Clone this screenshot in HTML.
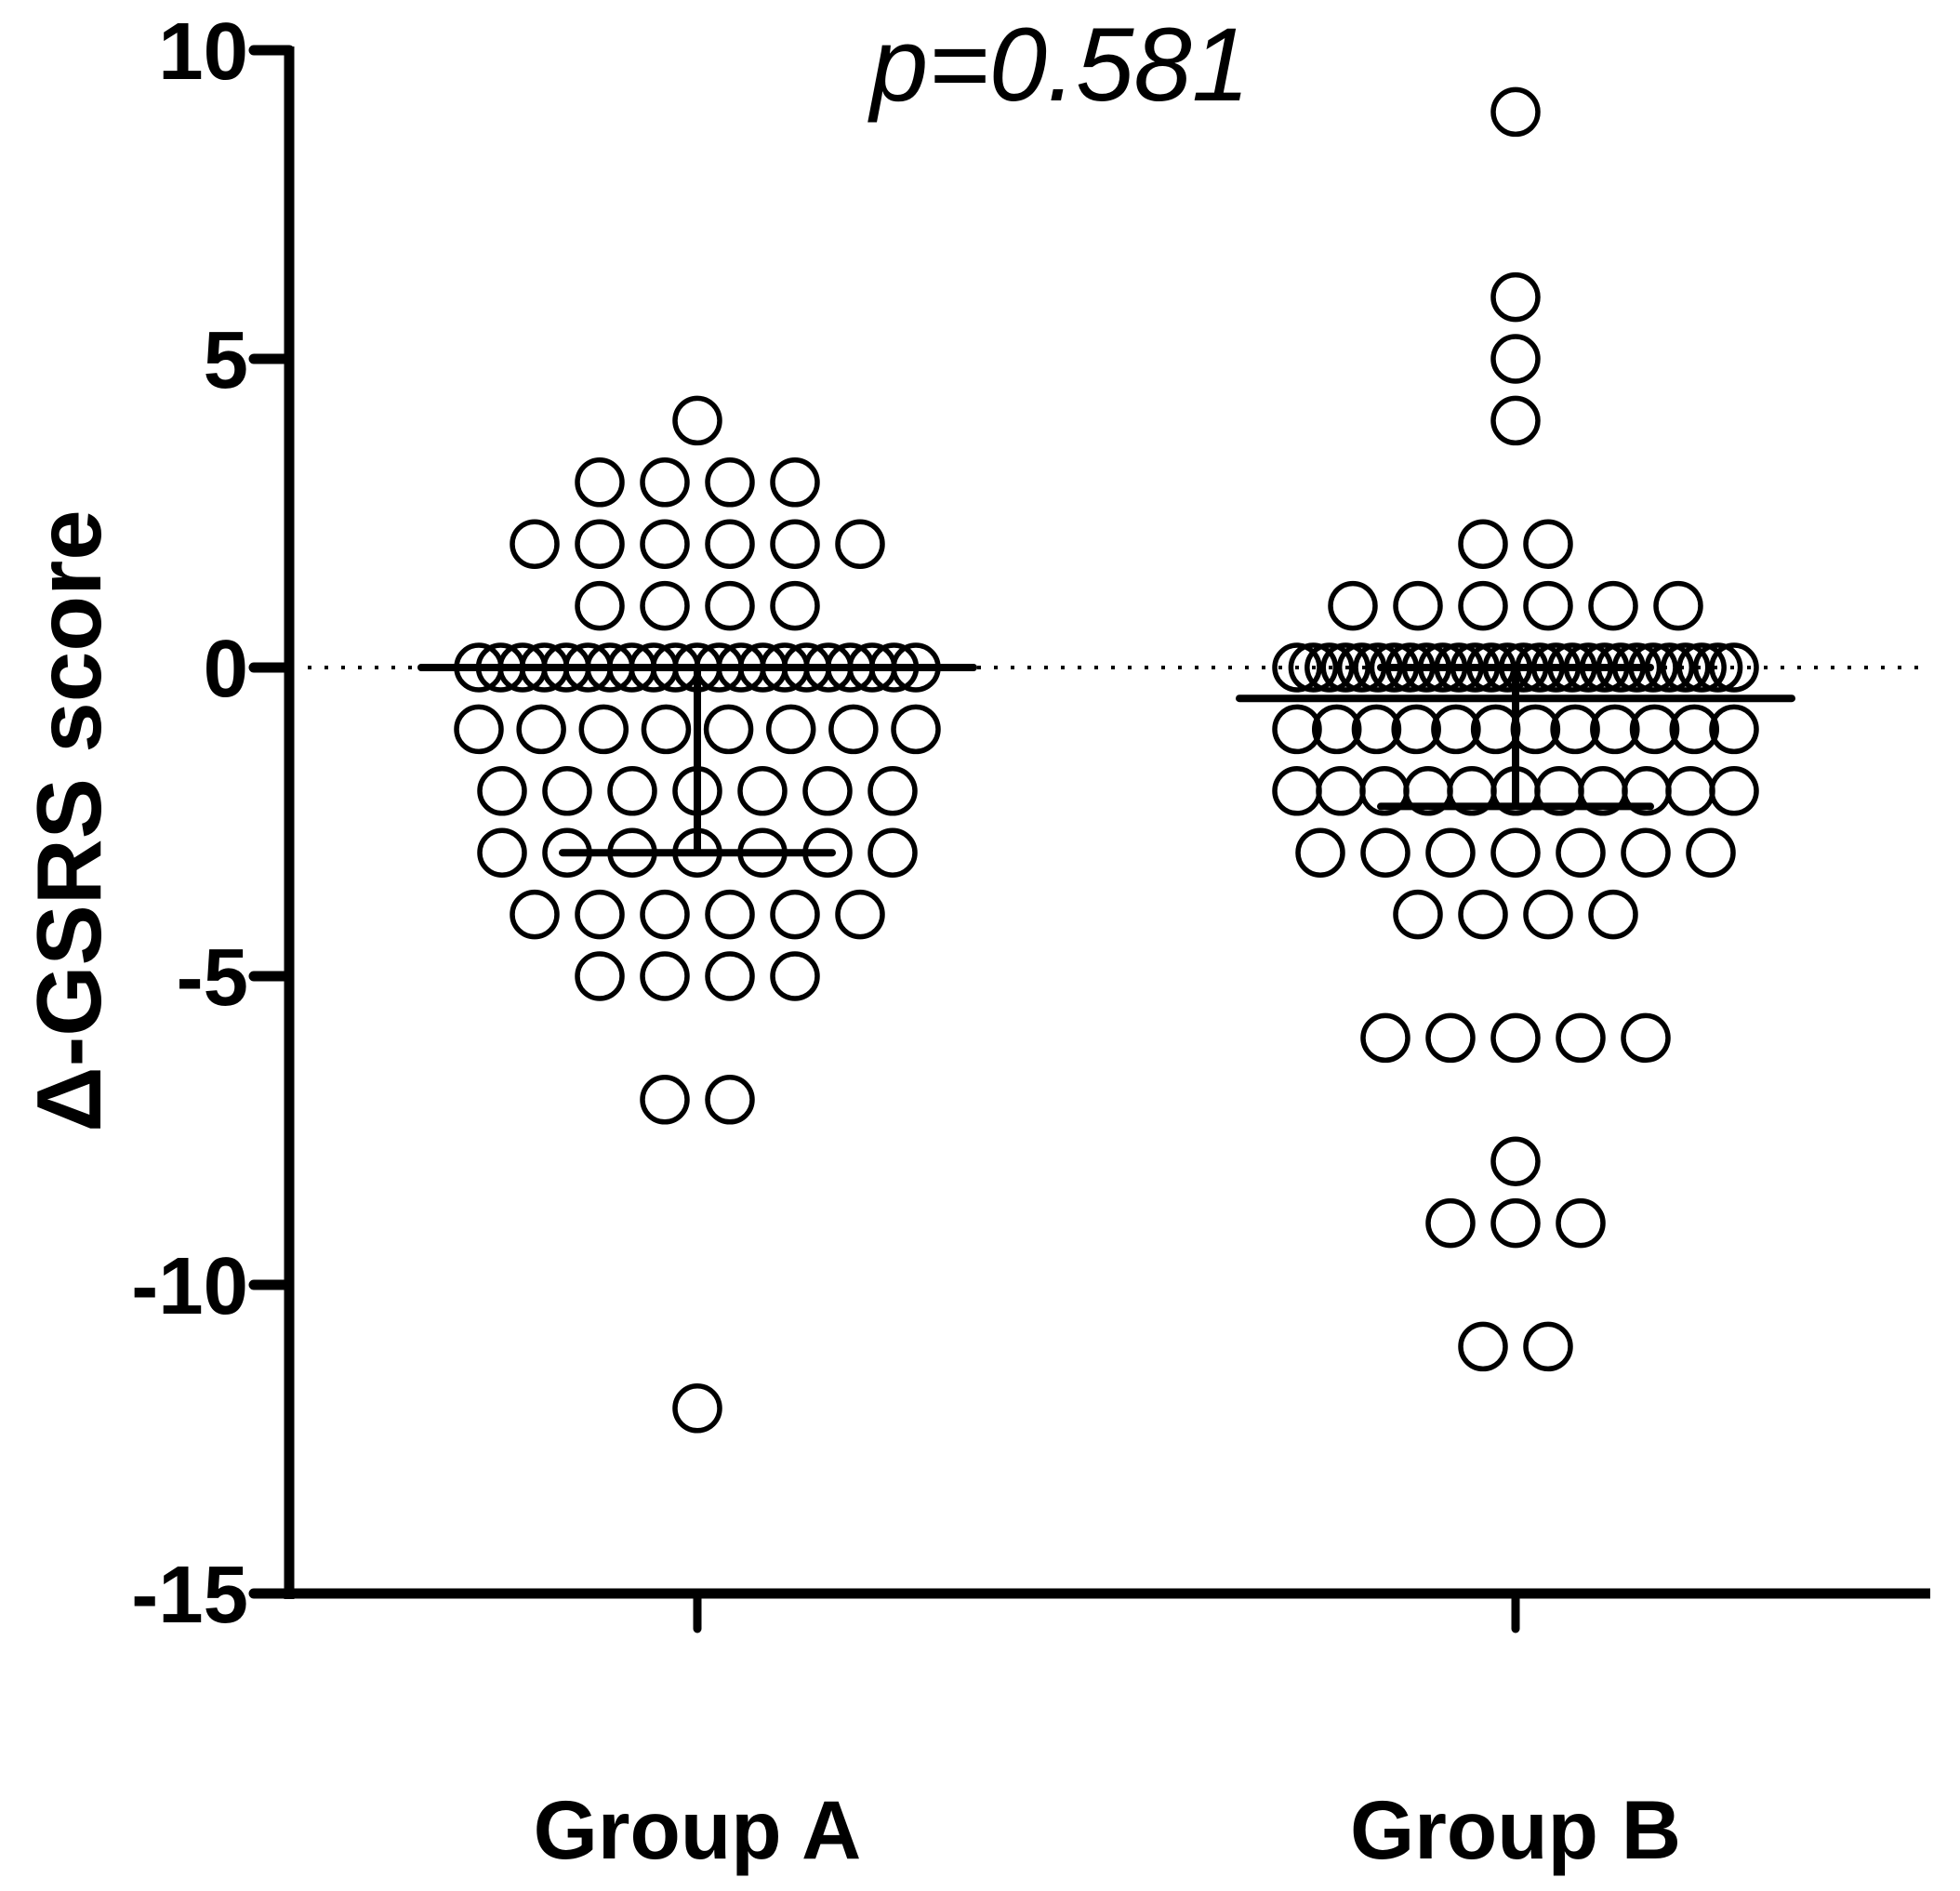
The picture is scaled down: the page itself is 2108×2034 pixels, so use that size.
<!DOCTYPE html>
<html><head><meta charset="utf-8"><style>
html,body{margin:0;padding:0;background:#fff;}
svg{display:block;}
text{font-family:"Liberation Sans",Arial,sans-serif;fill:#000;}
</style></head><body>
<svg id="chart" width="2108" height="2034" viewBox="0 0 2108 2034" xmlns="http://www.w3.org/2000/svg">
  <g id="axes"></g>
  <g id="marks"></g>
  <g id="stats"></g>
  <text x="1140" y="108" font-size="112" font-style="italic" text-anchor="middle">p=0.581</text>
  <text transform="translate(108,883) rotate(-90)" font-size="98" font-weight="bold" text-anchor="middle">Δ-GSRS score</text>
</svg>
<script>
// ---- data ----
const categories = ["Group A", "Group B"];
const groupALevels = [4, 3, 2, 1, 0, -1, -2, -3, -4, -5, -7, -12];
const groupACounts = [1, 4, 6, 4, 21, 8, 7, 7, 6, 4, 2, 1];
const groupBLevels = [9, 6, 5, 4, 2, 1, 0, -1, -2, -3, -4, -6, -8, -9, -11];
const groupBCounts = [1, 1, 1, 1, 2, 6, 28, 12, 11, 7, 4, 5, 1, 3, 2];
const medians = [0, -0.5];
const q1s = [-3, -2.25];
const q3s = [0, 0];
const yTicks = [10, 5, 0, -5, -10, -15];

// ---- scales ----
const Y0 = 718, UNIT = 66.4;
const yScale = v => Y0 - v * UNIT;
const xCenters = [750, 1630];
const xScale = i => xCenters[i];
const AX = 311, XEND = 2076;
const NS = "http://www.w3.org/2000/svg";
function mk(tag, attrs, parent) {
  const e = document.createElementNS(NS, tag);
  for (const k in attrs) e.setAttribute(k, attrs[k]);
  parent.appendChild(e);
  return e;
}
const axes = document.getElementById('axes');
const marks = document.getElementById('marks');
const stats = document.getElementById('stats');

const zl = mk('line', {x1: AX + 20, x2: XEND, y1: yScale(0), y2: yScale(0), stroke: '#000', 'stroke-width': 4, 'stroke-dasharray': '4 14'}, axes);



const ya = mk('line', {x1: AX, x2: AX, y1: yScale(10) - 4, y2: yScale(-15) + 6, stroke: '#000', 'stroke-width': 11}, axes);


yTicks.forEach(t => {
  const tk = mk('line', {x1: 273, x2: AX, y1: yScale(t), y2: yScale(t), stroke: '#000', 'stroke-width': 11, 'stroke-linecap': 'round'}, axes);
  
  
  const lb = mk('text', {x: 267, y: yScale(t) + 31, 'font-size': 87, 'font-weight': 'bold', 'text-anchor': 'end'}, axes);
  lb.textContent = String(t);
  
  
});
const xa = mk('line', {x1: AX - 5, x2: XEND, y1: yScale(-15), y2: yScale(-15), stroke: '#000', 'stroke-width': 11}, axes);


categories.forEach((c, i) => {
  const tk = mk('line', {x1: xScale(i), x2: xScale(i), y1: yScale(-15), y2: 1752, stroke: '#000', 'stroke-width': 9, 'stroke-linecap': 'round'}, axes);
  
  
  const lb = mk('text', {x: xScale(i), y: 1999, 'font-size': 89, 'font-weight': 'bold', 'text-anchor': 'middle'}, axes);
  lb.textContent = c;
  
  
});

const STEP = 70, MAXW = 470, R = 24;
function drawGroup(gi, levels, counts) {
  levels.forEach((v, li) => {
    const n = counts[li];
    const sp = n > 1 ? Math.min(STEP, MAXW / (n - 1)) : 0;
    for (let k = 0; k < n; k++) {
      const cx = xScale(gi) + (k - (n - 1) / 2) * sp;
      const c = mk('circle', {cx: cx, cy: yScale(v), r: R, fill: 'none', stroke: '#000', 'stroke-width': 5.5}, marks);
      
      
    }
  });
}
drawGroup(0, groupALevels, groupACounts);
drawGroup(1, groupBLevels, groupBCounts);

categories.forEach((c, i) => {
  const x = xScale(i);
  const m = mk('line', {x1: x - 297, x2: x + 297, y1: yScale(medians[i]), y2: yScale(medians[i]), stroke: '#000', 'stroke-width': 8, 'stroke-linecap': 'round'}, stats);
  
  
  const w = mk('line', {x1: x, x2: x, y1: yScale(q3s[i]), y2: yScale(q1s[i]), stroke: '#000', 'stroke-width': 8}, stats);
  
  
  const l = mk('line', {x1: x - 145, x2: x + 145, y1: yScale(q1s[i]), y2: yScale(q1s[i]), stroke: '#000', 'stroke-width': 8, 'stroke-linecap': 'round'}, stats);
  
  
  if (q3s[i] !== medians[i]) {
    const u = mk('line', {x1: x - 145, x2: x + 145, y1: yScale(q3s[i]), y2: yScale(q3s[i]), stroke: '#000', 'stroke-width': 8, 'stroke-linecap': 'round'}, stats);
    
    
  }
});
</script>
</body></html>
